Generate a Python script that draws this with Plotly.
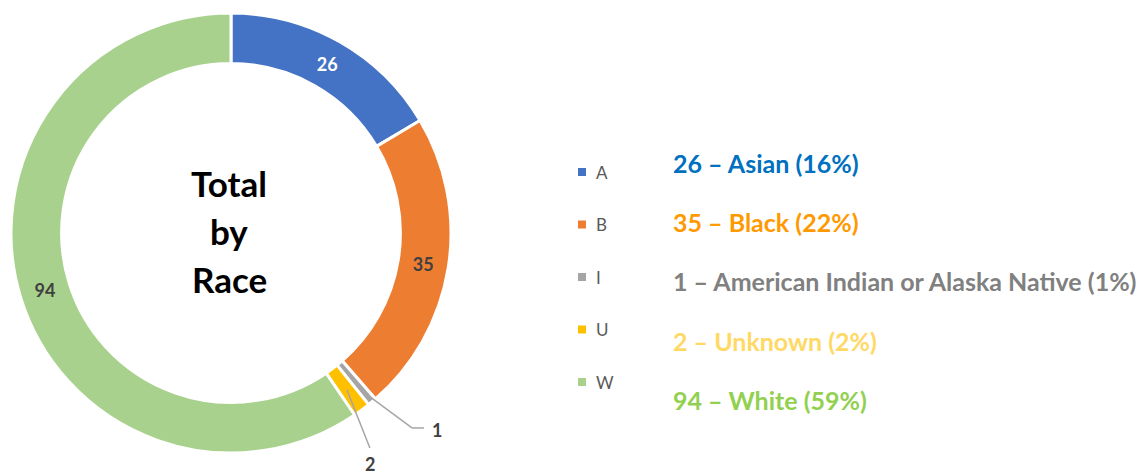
import math
import plotly.graph_objects as go

# ---- data ----
codes = ["A", "B", "I", "U", "W"]
races = ["Asian", "Black", "American Indian or Alaska Native", "Unknown", "White"]
counts = [26, 35, 1, 2, 94]
percents = [16, 22, 1, 2, 59]
slice_colors = ["#4472C4", "#ED7D31", "#A5A5A5", "#FFC000", "#A9D18E"]
text_colors = ["#0070C0", "#FF9900", "#808080", "#FFD966", "#92D050"]
center_title = ["Total", "by", "Race"]

W, H = 1145, 476
FONT = "Lato"

def px(x):
    return x / W

def py(y):
    return 1 - y / H

# pie placement (pixels)
cx, cy, R = 231, 233, 220
hole = 0.77
total = sum(counts)

inside_text = [str(v) if v >= 10 else "" for v in counts]
inside_col = ["white"] + ["#404040"] * (len(counts) - 1)

fig = go.Figure()
fig.add_trace(go.Pie(
    labels=codes, values=counts, sort=False, direction="clockwise", rotation=0,
    hole=hole, marker=dict(colors=slice_colors, line=dict(color="white", width=3)),
    text=inside_text, textinfo="text", textposition="inside",
    insidetextorientation="horizontal",
    insidetextfont=dict(family=FONT, size=18, color=inside_col, weight="bold"),
    domain=dict(x=[px(cx - R), px(cx + R)], y=[py(cy + R), py(cy - R)]),
    showlegend=False, hoverinfo="label+value+percent",
))

shapes = []
annos = []

# center title
for i, t in enumerate(center_title):
    annos.append(dict(x=px(cx - 2), y=py(183 + 48 * i), xref="paper", yref="paper",
                      text=t, showarrow=False, xanchor="center", yanchor="middle",
                      font=dict(family=FONT, size=35, color="black", weight="bold")))

# leader lines for small slices
def polar(theta_deg, r):
    t = math.radians(theta_deg)
    return cx + r * math.sin(t), cy - r * math.cos(t)

cum = 0
mids = []
for v in counts:
    mids.append((cum + v / 2) / total * 360)
    cum += v

leader_cfg = {2: dict(r0=208, r1=266, dth=-3.0, horiz=12),
              3: dict(r0=195, r1=256, dth=3.6, horiz=0)}
for idx, cfg in leader_cfg.items():
    x0, y0 = polar(mids[idx], cfg["r0"])
    x1, y1 = polar(mids[idx] + cfg["dth"], cfg["r1"])
    shapes.append(dict(type="line", xref="paper", yref="paper",
                       x0=px(x0), y0=py(y0), x1=px(x1), y1=py(y1),
                       line=dict(color="#A6A6A6", width=1.5)))
    if cfg["horiz"]:
        x2 = x1 + cfg["horiz"]
        shapes.append(dict(type="line", xref="paper", yref="paper",
                           x0=px(x1), y0=py(y1), x1=px(x2), y1=py(y1),
                           line=dict(color="#A6A6A6", width=1.5)))
        annos.append(dict(x=px(x2 + 6), y=py(y1 + 2), xref="paper", yref="paper",
                          text=str(counts[idx]), showarrow=False, xanchor="left",
                          yanchor="middle",
                          font=dict(family=FONT, size=18, color="#404040", weight="bold")))
    else:
        annos.append(dict(x=px(x1), y=py(y1 + 16), xref="paper", yref="paper",
                          text=str(counts[idx]), showarrow=False, xanchor="center",
                          yanchor="middle",
                          font=dict(family=FONT, size=18, color="#404040", weight="bold")))

# manual legend
leg_y0, leg_dy = 172, 52.5
for i, (c, col) in enumerate(zip(codes, slice_colors)):
    yy = leg_y0 + leg_dy * i
    shapes.append(dict(type="rect", xref="paper", yref="paper",
                       x0=px(578), x1=px(586), y0=py(yy - 4), y1=py(yy + 4),
                       fillcolor=col, line=dict(width=0)))
    annos.append(dict(x=px(594), y=py(yy), xref="paper", yref="paper", text=c,
                      showarrow=False, xanchor="left", yanchor="middle",
                      font=dict(family=FONT, size=17, color="#595959")))

# right-hand descriptions
row_y0, row_dy = 163, 59.2
for i, (n, r, p, col) in enumerate(zip(counts, races, percents, text_colors)):
    annos.append(dict(x=px(671), y=py(row_y0 + row_dy * i), xref="paper", yref="paper",
                      text=f"{n} – {r} ({p}%)", showarrow=False, xanchor="left",
                      yanchor="middle",
                      font=dict(family=FONT, size=25, color=col, weight="bold")))

fig.update_layout(width=W, height=H, margin=dict(l=0, r=0, t=0, b=0),
                  paper_bgcolor="white", plot_bgcolor="white",
                  shapes=shapes, annotations=annos)
fig.write_html("out.html", config={"displayModeBar": False},
               post_script="document.body.style.margin='0';document.body.style.overflow='hidden';")
